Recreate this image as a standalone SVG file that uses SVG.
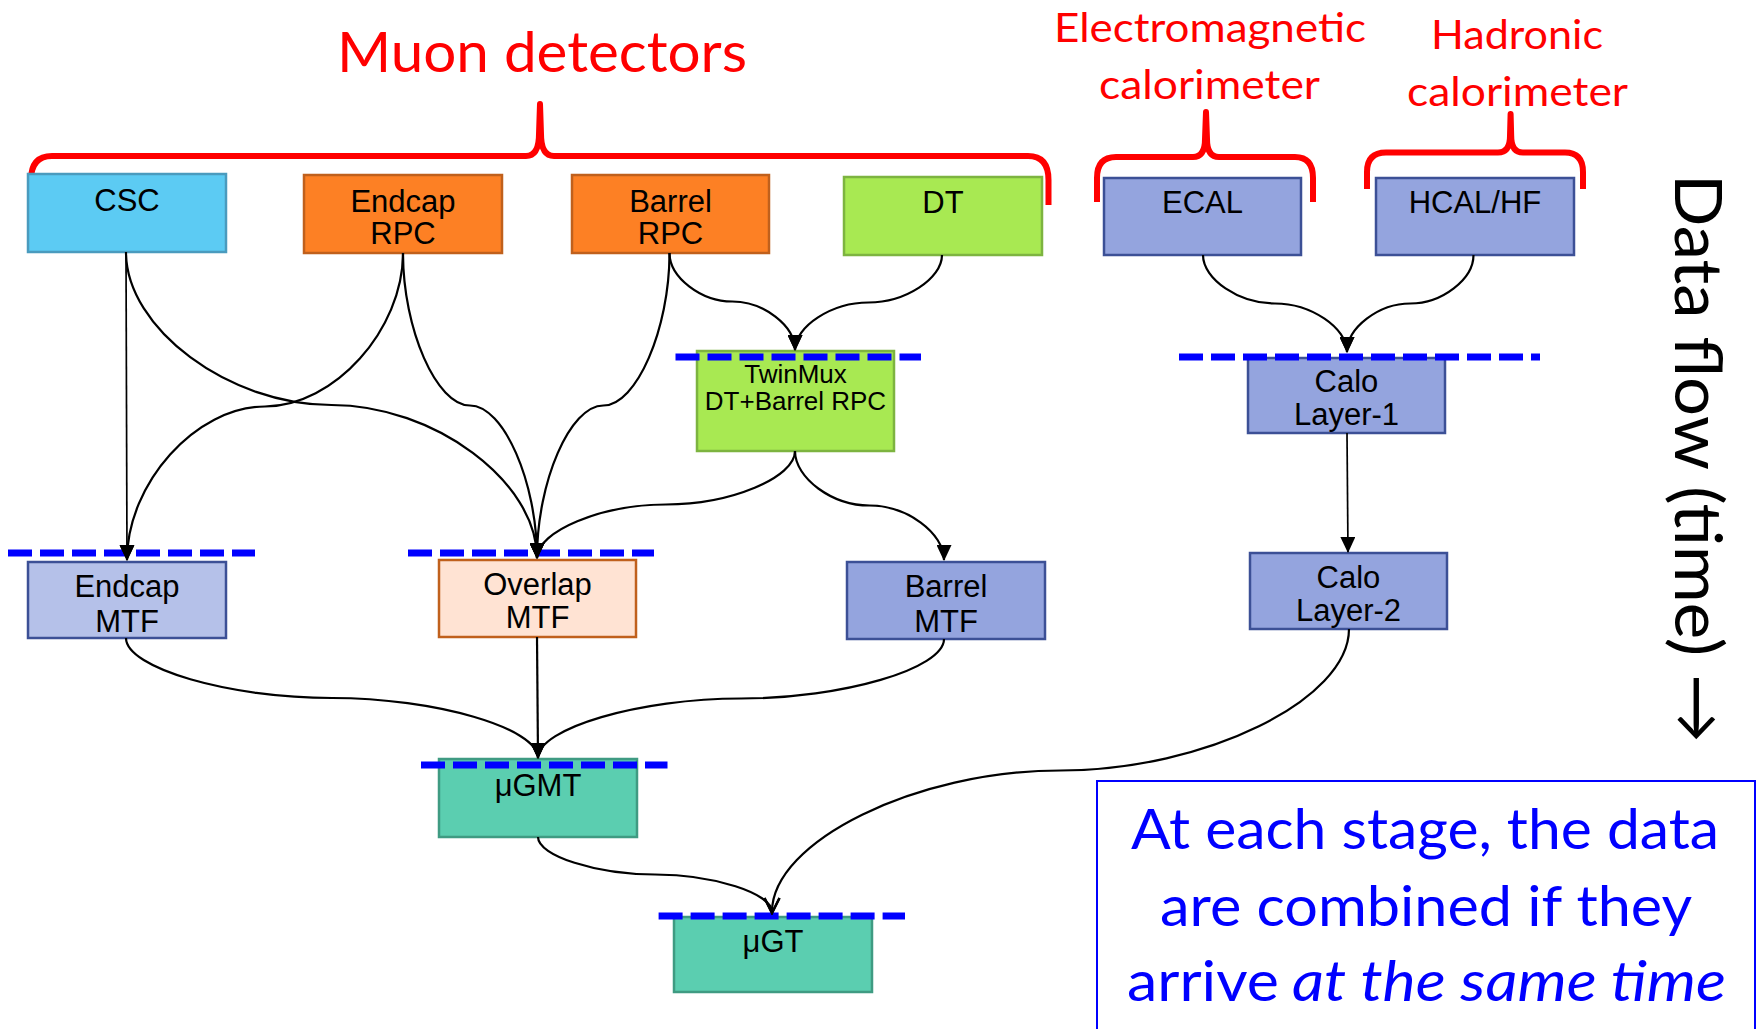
<svg xmlns="http://www.w3.org/2000/svg" width="1758" height="1029" viewBox="0 0 1758 1029">
  <style>
    .box { stroke-width: 2.5; }
    .lbl { font-family: "Liberation Sans", Arial, sans-serif; font-size: 31px; fill: #000; text-anchor: middle; }
    .small { font-size: 26px; }
    .sync { stroke: #0000FF; stroke-width: 7; stroke-dasharray: 24 8; fill: none; }
    .title { font-family: Lato, "Open Sans", sans-serif; fill: #FF0000; text-anchor: middle; }
    .brace { fill: none; stroke: #FF0000; stroke-width: 6; stroke-linejoin: round; stroke-linecap: butt; }
    .conn { fill: none; stroke: #000; stroke-width: 2.2; }
    .thin { stroke-width: 1.7; }
    .note { font-family: Lato, "Open Sans", sans-serif; fill: #0000FF; font-size: 56px; }
    .blue { fill: #94A4DE; stroke: #3C5096; }
    .paleblue { fill: #B5C1E9; stroke: #3C5096; }
    .orange { fill: #FD8024; stroke: #C0601C; }
    .peach { fill: #FFE3D3; stroke: #C0601C; }
    .green { fill: #A8E952; stroke: #7DB440; }
    .sky { fill: #5CCBF3; stroke: #4A9BBE; }
    .teal { fill: #5BCEB0; stroke: #3F9B82; }
  </style>
  <defs>
    <marker id="arrow" markerUnits="userSpaceOnUse" viewBox="0 0 16 15" markerWidth="16" markerHeight="15" refX="15" refY="7.5" orient="auto">
      <path d="M0,0 L16,7.5 L0,15 z" fill="#000"/>
    </marker>
    <marker id="open" markerUnits="userSpaceOnUse" viewBox="-2 -2 19 19" markerWidth="19" markerHeight="19" refX="14" refY="7.5" orient="auto">
      <path d="M0,0 L15,7.5 L0,15" fill="none" stroke="#000" stroke-width="2.4"/>
    </marker>
  </defs>

  <rect width="1758" height="1029" fill="#FFFFFF"/>

  <!-- headings and braces -->
  <g id="muon-heading">
    <text class="title" x="542" y="72" font-size="56" textLength="410" lengthAdjust="spacingAndGlyphs">Muon detectors</text>
    <path class="brace" d="M31,205 L31,180 Q31,156 52,156 L526,156 Q539,156 539,134 L540,104 L541,134 Q541,156 554,156 L1028,156 Q1048.5,156 1048.5,180 L1048.5,205"/>
  </g>
  <g id="ecal-heading">
    <text class="title" x="1210" y="42" font-size="40" textLength="312" lengthAdjust="spacingAndGlyphs">Electromagnetic</text>
    <text class="title" x="1209.5" y="99" font-size="40" textLength="221" lengthAdjust="spacingAndGlyphs">calorimeter</text>
    <path class="brace" d="M1097,202 L1097,178 Q1097,157 1116,157 L1193,157 Q1205,157 1205,139 L1206,112 L1207,139 Q1207,157 1219,157 L1295,157 Q1313,157 1313,178 L1313,202"/>
  </g>
  <g id="hcal-heading">
    <text class="title" x="1517" y="49" font-size="40" textLength="172" lengthAdjust="spacingAndGlyphs">Hadronic</text>
    <text class="title" x="1517.5" y="106" font-size="40" textLength="221" lengthAdjust="spacingAndGlyphs">calorimeter</text>
    <path class="brace" d="M1367,189 L1367,172 Q1367,152.5 1386,152.5 L1498,152.5 Q1510,152.5 1510,136 L1510.6,114 L1511.2,136 Q1511.2,152.5 1523,152.5 L1565,152.5 Q1583,152.5 1583,172 L1583,189"/>
  </g>

  <!-- detector nodes -->
  <g id="csc">
    <rect class="box sky" x="28" y="174" width="198" height="78"/>
    <text class="lbl" x="127" y="211">CSC</text>
  </g>
  <g id="endcap-rpc">
    <rect class="box orange" x="304" y="175" width="198" height="78"/>
    <text class="lbl" x="403" y="212">Endcap</text>
    <text class="lbl" x="403" y="244">RPC</text>
  </g>
  <g id="barrel-rpc">
    <rect class="box orange" x="572" y="175" width="197" height="78"/>
    <text class="lbl" x="670.5" y="212">Barrel</text>
    <text class="lbl" x="670.5" y="244">RPC</text>
  </g>
  <g id="dt">
    <rect class="box green" x="844" y="177" width="198" height="78"/>
    <text class="lbl" x="943" y="213">DT</text>
  </g>
  <g id="ecal">
    <rect class="box blue" x="1104" y="178" width="197" height="77"/>
    <text class="lbl" x="1202.5" y="213">ECAL</text>
  </g>
  <g id="hcal-hf">
    <rect class="box blue" x="1376" y="178" width="198" height="77"/>
    <text class="lbl" x="1475" y="213">HCAL/HF</text>
  </g>

  <!-- processing nodes, each with its synchronisation line -->
  <g id="twinmux">
    <rect class="box green" x="697" y="351" width="197" height="100"/>
    <line class="sync" x1="675.5" y1="357" x2="921" y2="357"/>
    <text class="lbl small" x="795.5" y="383">TwinMux</text>
    <text class="lbl small" x="795.5" y="410">DT+Barrel RPC</text>
  </g>
  <g id="calo-layer-1">
    <rect class="box blue" x="1248" y="358" width="197" height="75"/>
    <line class="sync" x1="1179" y1="357" x2="1540" y2="357"/>
    <text class="lbl" x="1346.5" y="392">Calo</text>
    <text class="lbl" x="1346.5" y="425">Layer-1</text>
  </g>
  <g id="endcap-mtf">
    <rect class="box paleblue" x="28" y="562" width="198" height="76"/>
    <line class="sync" x1="8" y1="553" x2="255" y2="553"/>
    <text class="lbl" x="127" y="597">Endcap</text>
    <text class="lbl" x="127" y="632">MTF</text>
  </g>
  <g id="overlap-mtf">
    <rect class="box peach" x="439" y="560" width="197" height="77"/>
    <line class="sync" x1="408" y1="553" x2="654" y2="553"/>
    <text class="lbl" x="537.5" y="595">Overlap</text>
    <text class="lbl" x="537.5" y="628">MTF</text>
  </g>
  <g id="barrel-mtf">
    <rect class="box blue" x="847" y="562" width="198" height="77"/>
    <text class="lbl" x="946" y="597">Barrel</text>
    <text class="lbl" x="946" y="632">MTF</text>
  </g>
  <g id="calo-layer-2">
    <rect class="box blue" x="1250" y="553" width="197" height="76"/>
    <text class="lbl" x="1348.5" y="588">Calo</text>
    <text class="lbl" x="1348.5" y="621">Layer-2</text>
  </g>
  <g id="ugmt">
    <rect class="box teal" x="439" y="759" width="198" height="78"/>
    <line class="sync" x1="421" y1="765" x2="667.5" y2="765"/>
    <text class="lbl" x="538" y="796">μGMT</text>
  </g>
  <g id="ugt">
    <rect class="box teal" x="674" y="917" width="198" height="75"/>
    <line class="sync" x1="658.6" y1="916" x2="905" y2="916"/>
    <text class="lbl" x="773" y="952">μGT</text>
  </g>

  <!-- connectors -->
  <g id="connectors">
    <path class="conn thin" marker-end="url(#arrow)" d="M126,252 L127,560"/>
    <path class="conn" marker-end="url(#arrow)" d="M126,252 C126,328.5 228.8,405 331.5,405 C434.3,405 537,481.5 537,558"/>
    <path class="conn" marker-end="url(#arrow)" d="M403,253 C403,329.8 334,406.5 265,406.5 C196,406.5 127,483.3 127,560"/>
    <path class="conn" marker-end="url(#arrow)" d="M403,253 C403,329.3 436.5,405.5 470,405.5 C503.5,405.5 537,481.8 537,558"/>
    <path class="conn" marker-end="url(#arrow)" d="M669.5,253 C669.5,329.3 636.4,405.5 603.3,405.5 C570.1,405.5 537,481.8 537,558"/>
    <path class="conn" marker-end="url(#arrow)" d="M669.5,253 C669.5,277.3 700.9,301.5 732.3,301.5 C763.6,301.5 795,325.8 795,350"/>
    <path class="conn" marker-end="url(#arrow)" d="M942,255 C942,278.8 905.3,302.5 868.5,302.5 C831.8,302.5 795,326.3 795,350"/>
    <path class="conn" marker-end="url(#arrow)" d="M795,451 C795,477.8 730.5,504.5 666,504.5 C601.5,504.5 537,531.3 537,558"/>
    <path class="conn" marker-end="url(#arrow)" d="M795,451 C795,478.3 832.3,505.5 869.5,505.5 C906.8,505.5 944,532.8 944,560"/>
    <path class="conn" marker-end="url(#arrow)" d="M1203,255 C1203,279.3 1239,303.5 1275,303.5 C1311,303.5 1347,327.8 1347,352"/>
    <path class="conn" marker-end="url(#arrow)" d="M1473.5,255 C1473.5,279.3 1441.9,303.5 1410.3,303.5 C1378.6,303.5 1347,327.8 1347,352"/>
    <path class="conn thin" marker-end="url(#arrow)" d="M1347,433 L1348,552"/>
    <path class="conn" marker-end="url(#arrow)" d="M126,638 C126,668 229,698 332,698 C435,698 538,728 538,758"/>
    <path class="conn" marker-end="url(#arrow)" d="M537,637 L538,758"/>
    <path class="conn" marker-end="url(#arrow)" d="M944,639 C944,668.8 842.5,698.5 741,698.5 C639.5,698.5 538,728.3 538,758"/>
    <path class="conn" marker-end="url(#open)" d="M538,837 C538,855.8 596.5,874.5 655,874.5 C713.5,874.5 772,893.3 772,912"/>
    <path class="conn" marker-end="url(#open)" d="M1349,629 C1349,699.8 1204.8,770.5 1060.5,770.5 C916.3,770.5 772,841.3 772,912"/>
  </g>

  <!-- time axis -->
  <g id="data-flow">
    <text transform="translate(1675,174) rotate(90)" x="0" y="0" font-family="Lato, 'Open Sans', sans-serif" font-size="66" fill="#000" textLength="569" lengthAdjust="spacingAndGlyphs">Data flow (time) →</text>
  </g>

  <!-- note box -->
  <g id="note">
    <rect x="1097" y="781" width="658" height="260" fill="none" stroke="#0000FF" stroke-width="2"/>
    <text class="note" x="1131" y="849" textLength="588" lengthAdjust="spacingAndGlyphs">At each stage, the data</text>
    <text class="note" x="1160" y="926" textLength="532" lengthAdjust="spacingAndGlyphs">are combined if they</text>
    <text class="note" x="1127" y="1001" textLength="152" lengthAdjust="spacingAndGlyphs">arrive</text>
    <text class="note" x="1292" y="1001" font-style="italic" textLength="434" lengthAdjust="spacingAndGlyphs">at the same time</text>
  </g>
</svg>
